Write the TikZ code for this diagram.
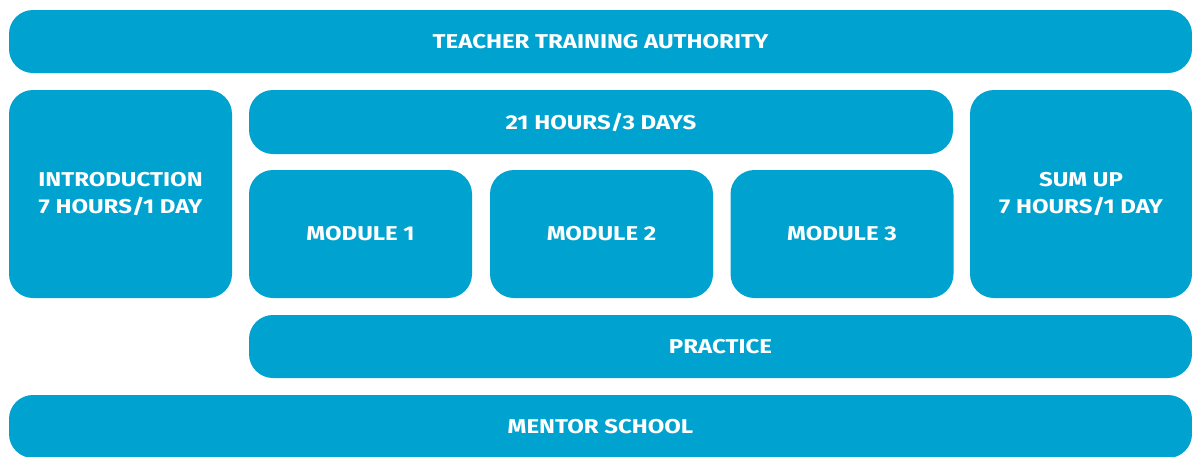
\documentclass[tikz,border=0pt]{standalone}
\usepackage{fontspec}
\setmainfont{Fira Sans}[FakeStretch=1.2]
\definecolor{tealblue}{HTML}{00A3CF}
\begin{document}
\begin{tikzpicture}[x=1pt,y=-1pt,line join=round,
	blk/.style={fill=tealblue,rounded corners=24pt,inner sep=0pt,text=white,align=center,
		font=\bfseries\fontsize{20}{27}\selectfont}]
	\def\w{223};
	\useasboundingbox (0,0) rectangle (1192,456);
	\node[blk,minimum width=1183pt,minimum height=63pt] (tta) at (600.5,41.5) {TEACHER TRAINING AUTHORITY};
	\node[blk,minimum width=\w pt,minimum height=208pt] (intro) at (120.5,194) {INTRODUCTION\\7 HOURS/1 DAY};
	\node[blk,minimum width=704pt,minimum height=64pt] (hours) at (601,122) {21 HOURS/3 DAYS};
	\foreach \n/\x in {1/360.5,2/601.5,3/842}
		\node[blk,minimum width=\w pt,minimum height=128pt] (mod\n) at (\x,234) {MODULE \n};
	\node[blk,minimum width=222pt,minimum height=208pt] (sumup) at (1081,194) {SUM UP\\7 HOURS/1 DAY};
	\node[blk,minimum width=943pt,minimum height=63pt] (practice) at (720.5,346.5) {PRACTICE};
	\node[blk,minimum width=1183pt,minimum height=63pt] (mentor) at (600.5,426.5) {MENTOR SCHOOL};
\end{tikzpicture}
\end{document}
